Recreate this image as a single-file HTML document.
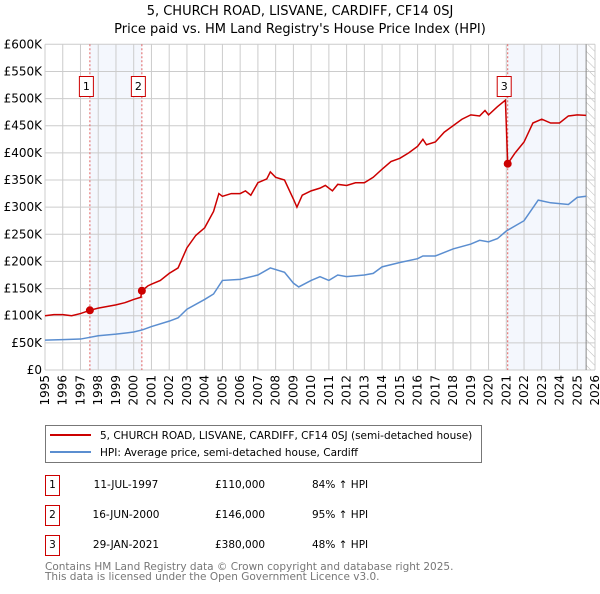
<!DOCTYPE html>
<html><head><meta charset="utf-8"><style>
body{margin:0;background:#fff;font-family:"DejaVu Sans","Liberation Sans",sans-serif;}
svg text{font-family:"DejaVu Sans","Liberation Sans",sans-serif;}
</style></head><body>
<svg id="c" width="600" height="590" xmlns="http://www.w3.org/2000/svg">
<defs><pattern id="hatch" width="6" height="6" patternUnits="userSpaceOnUse" patternTransform="rotate(-45)"><line x1="0" y1="0" x2="0" y2="6" stroke="#bbb" stroke-width="1"/></pattern></defs>
<text x="300" y="15" text-anchor="middle" font-size="13">5, CHURCH ROAD, LISVANE, CARDIFF, CF14 0SJ</text>
<text x="300" y="33" text-anchor="middle" font-size="13">Price paid vs. HM Land Registry's House Price Index (HPI)</text>
<g id="plot"></g>
<g>
<rect x="45.5" y="425.5" width="436" height="37" fill="#fff" stroke="#777"/>
<line x1="50" y1="435" x2="91" y2="435" stroke="#cc0000" stroke-width="2"/>
<text x="100" y="439" font-size="10.5">5, CHURCH ROAD, LISVANE, CARDIFF, CF14 0SJ (semi-detached house)</text>
<line x1="50" y1="452" x2="91" y2="452" stroke="#5b8ed0" stroke-width="2"/>
<text x="100" y="456" font-size="10.5">HPI: Average price, semi-detached house, Cardiff</text>
</g>
<g id="table" font-size="10.5"></g>
<text x="45" y="570" font-size="10.5" fill="#777">Contains HM Land Registry data © Crown copyright and database right 2025.</text>
<text x="45" y="580" font-size="10.5" fill="#777">This data is licensed under the Open Government Licence v3.0.</text>
</svg>
<script>
const yTicks=[0,50,100,150,200,250,300,350,400,450,500,550,600];
const yTickLabels=["£0","£50K","£100K","£150K","£200K","£250K","£300K","£350K","£400K","£450K","£500K","£550K","£600K"];
const xYears=[1995,1996,1997,1998,1999,2000,2001,2002,2003,2004,2005,2006,2007,2008,2009,2010,2011,2012,2013,2014,2015,2016,2017,2018,2019,2020,2021,2022,2023,2024,2025,2026];
const redT=[1995,1995.5,1996,1996.5,1997,1997.53,1998,1998.5,1999,1999.5,2000,2000.4,2000.46,2000.8,2001,2001.5,2002,2002.5,2003,2003.5,2004,2004.5,2004.8,2005,2005.5,2006,2006.3,2006.6,2007,2007.5,2007.7,2008,2008.5,2009,2009.2,2009.5,2010,2010.5,2010.8,2011.2,2011.5,2012,2012.5,2013,2013.5,2014,2014.5,2015,2015.5,2016,2016.3,2016.5,2017,2017.5,2018,2018.5,2019,2019.5,2019.8,2020,2020.5,2020.95,2021.08,2021.5,2022,2022.5,2023,2023.5,2024,2024.5,2025,2025.5];
const redV=[100,102,102,100,104,110,114,117,120,124,130,134,146,155,158,165,178,188,225,248,262,292,325,320,325,325,330,322,345,352,365,355,350,315,300,322,330,335,340,330,342,340,345,345,355,370,384,390,400,412,425,415,420,438,450,462,470,468,478,470,485,497,380,400,420,455,462,455,455,468,470,469];
const blueT=[1995,1996,1997,1997.5,1998,1999,2000,2000.5,2001,2002,2002.5,2003,2004,2004.5,2005,2006,2007,2007.7,2008.5,2009,2009.3,2010,2010.5,2011,2011.5,2012,2013,2013.5,2014,2015,2016,2016.3,2017,2018,2019,2019.5,2020,2020.5,2021,2022,2022.8,2023.5,2024.5,2025,2025.5];
const blueV=[55,56,57,60,63,66,70,74,80,90,96,112,130,140,165,167,175,188,180,160,153,165,172,165,175,172,175,178,190,198,205,210,210,223,232,239,236,242,256,275,313,308,305,318,320];
const sales=[{n:"1",t:1997.53,v:110,d:"11-JUL-1997",p:"£110,000",h:"84% ↑ HPI"},{n:"2",t:2000.46,v:146,d:"16-JUN-2000",p:"£146,000",h:"95% ↑ HPI"},{n:"3",t:2021.08,v:380,d:"29-JAN-2021",p:"£380,000",h:"48% ↑ HPI"}];
const X0=45,X1=595,Y0=370,Y1=44.3;
const xs=t=>X0+(t-1995)/(2026-1995)*(X1-X0);
const ys=v=>Y0-v/600*(Y0-Y1);
const NS="http://www.w3.org/2000/svg";
const plot=document.getElementById('plot');
function mk(tag,attrs,parent){const e=document.createElementNS(NS,tag);for(const k in attrs)e.setAttribute(k,attrs[k]);(parent||plot).appendChild(e);return e;}
let e;
e=mk('rect',{x:X0,y:Y1,width:X1-X0,height:Y0-Y1,fill:'#fff'});


e=mk('rect',{x:xs(sales[0].t),y:Y1,width:xs(sales[1].t)-xs(sales[0].t),height:Y0-Y1,fill:'#f4f7fd'});


e=mk('rect',{x:xs(sales[2].t),y:Y1,width:xs(2025.5)-xs(sales[2].t),height:Y0-Y1,fill:'#f4f7fd'});


e=mk('rect',{x:xs(2025.5),y:Y1,width:X1-xs(2025.5),height:Y0-Y1,fill:'url(#hatch)'});


yTicks.forEach((v,i)=>{
 e=mk('line',{x1:X0,x2:X1,y1:ys(v),y2:ys(v),stroke:'#ccc','stroke-width':1});
 
 
 e=mk('text',{x:X0-3,y:ys(v)+4,'text-anchor':'end','font-size':12});
 e.textContent=yTickLabels[i];
 
 
});
xYears.forEach(y=>{
 e=mk('line',{x1:xs(y),x2:xs(y),y1:Y1,y2:Y0,stroke:'#ccc','stroke-width':1});
 
 
 e=mk('text',{x:0,y:0,'text-anchor':'end','font-size':12,transform:`translate(${xs(y)+4},${Y0+5}) rotate(-90)`});
 e.textContent=y;
 
 
});
e=mk('line',{x1:xs(2025.5),x2:xs(2025.5),y1:Y1,y2:Y0,stroke:'#888','stroke-width':1});


sales.forEach(s=>{
 e=mk('line',{x1:xs(s.t),x2:xs(s.t),y1:Y1,y2:Y0,stroke:'#e06060','stroke-width':1,'stroke-dasharray':'2,2'});
 
 
});
e=mk('polyline',{points:blueT.map((t,i)=>xs(t)+','+ys(blueV[i])).join(' '),fill:'none',stroke:'#5b8ed0','stroke-width':1.5});


e=mk('polyline',{points:redT.map((t,i)=>xs(t)+','+ys(redV[i])).join(' '),fill:'none',stroke:'#cc0000','stroke-width':1.5});


sales.forEach(s=>{
 e=mk('circle',{cx:xs(s.t),cy:ys(s.v),r:4,fill:'#cc0000'});
 
 
 const bx=xs(s.t);
 e=mk('rect',{x:bx-10.5,y:76.5,width:14,height:20,fill:'#fff',stroke:'#cc0000'});
 
 
 e=mk('text',{x:bx-3.5,y:90,'text-anchor':'middle','font-size':11});
 e.textContent=s.n;
 
 
});
const tb=document.getElementById('table');
sales.forEach((s,i)=>{
 const y=488+i*30;
 e=mk('rect',{x:45.5,y:475.5+i*30,width:14,height:20,fill:'#fff',stroke:'#cc0000'},tb);
 
 
 e=mk('text',{x:52.5,y:y,'text-anchor':'middle'},tb);e.textContent=s.n;
 
 
 e=mk('text',{x:126,y:y,'text-anchor':'middle'},tb);e.textContent=s.d;
 
 
 e=mk('text',{x:215,y:y},tb);e.textContent=s.p;
 
 
 e=mk('text',{x:312,y:y},tb);e.textContent=s.h;
 
 
});
</script>
</body></html>
